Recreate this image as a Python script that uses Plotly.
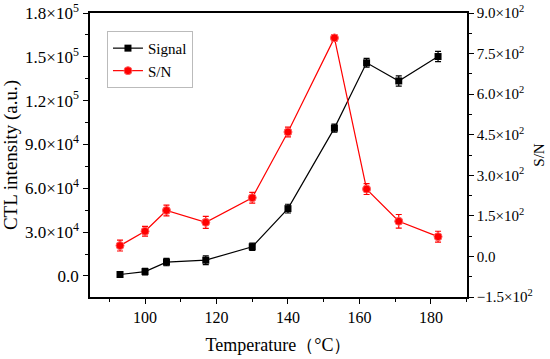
import plotly.graph_objects as go

temperature = [93, 100, 106, 117, 130, 140, 153, 162, 171, 182]
signal = [1000, 3000, 9500, 10800, 20000, 46100, 101200, 145900, 133500, 150200]
signal_err = [2000, 2200, 2500, 3000, 2500, 3000, 2800, 3000, 3500, 3500]
sn = [40, 93, 170, 126, 217, 460, 808, 249, 130, 73]
sn_err = [20, 18, 20, 22, 20, 18, 12, 20, 25, 20]

left_vals = [0, 30000, 60000, 90000, 120000, 150000, 180000]
left_text = ["0.0", "3.0×10<sup>4</sup>", "6.0×10<sup>4</sup>", "9.0×10<sup>4</sup>",
             "1.2×10<sup>5</sup>", "1.5×10<sup>5</sup>", "1.8×10<sup>5</sup>"]
right_vals = [-150, 0, 150, 300, 450, 600, 750, 900]
right_text = ["−1.5×10<sup>2</sup>", "0.0", "1.5×10<sup>2</sup>", "3.0×10<sup>2</sup>",
              "4.5×10<sup>2</sup>", "6.0×10<sup>2</sup>", "7.5×10<sup>2</sup>", "9.0×10<sup>2</sup>"]
x_vals = [100, 120, 140, 160, 180]

font = "Times New Roman, Liberation Serif, serif"

fig = go.Figure()
fig.add_trace(go.Scatter(
    x=temperature, y=signal, name="Signal", mode="lines+markers",
    line=dict(color="black", width=1.2),
    marker=dict(symbol="square", size=7, color="black"),
    error_y=dict(type="data", array=signal_err, color="black", thickness=1.2, width=3),
    yaxis="y"))
fig.add_trace(go.Scatter(
    x=temperature, y=sn, name="S/N", mode="lines+markers",
    line=dict(color="red", width=1.2),
    marker=dict(symbol="circle", size=8, color="red", line=dict(color="#ff6060", width=1)),
    error_y=dict(type="data", array=sn_err, color="red", thickness=1.2, width=3),
    yaxis="y2"))

axis_common = dict(showgrid=False, zeroline=False, showline=True, linecolor="black",
                   linewidth=1.5, ticks="outside", ticklen=5, tickwidth=1.2,
                   tickcolor="black", automargin=False, ticklabeloverflow="allow")

fig.update_layout(
    width=550, height=359,
    margin=dict(l=90, r=83, t=13, b=62),
    paper_bgcolor="white", plot_bgcolor="white",
    font=dict(family=font, color="black"),
    showlegend=True,
    legend=dict(x=0.045, y=0.937, xanchor="left", yanchor="top",
                bgcolor="white", bordercolor="#bbbbbb", borderwidth=1,
                font=dict(family=font, size=15, color="black"),
                itemwidth=30, tracegroupgap=0),
    xaxis=dict(**axis_common, range=[84.6, 190.1], tickmode="array", tickvals=x_vals,
               mirror=True, tickfont=dict(family=font, size=16, color="black"),
               ticklabelstandoff=0,
               minor=dict(ticks="outside", ticklen=3, dtick=10, tick0=0, tickcolor="black"),
               title=dict(text="Temperature（°C）", font=dict(family=font, size=18), standoff=13)),
    yaxis=dict(**axis_common, range=[-14400, 180000], tickmode="array", tickvals=left_vals,
               ticktext=left_text, tickfont=dict(family=font, size=17, color="black"),
               ticklabelstandoff=1,
               minor=dict(ticks="outside", ticklen=3, dtick=15000, tick0=0, tickcolor="black"),
               title=dict(text="CTL intensity (a.u.)", font=dict(family=font, size=19), standoff=9)),
    yaxis2=dict(**axis_common, range=[-150, 900], overlaying="y", side="right",
                tickmode="array", tickvals=right_vals, ticktext=right_text,
                tickfont=dict(family=font, size=15, color="black"),
                ticklabelstandoff=0,
                minor=dict(ticks="outside", ticklen=3, dtick=75, tick0=0, tickcolor="black"),
                title=dict(text="S/N", font=dict(family=font, size=15), standoff=2)),
)

fig.write_html("out.html", config={"displayModeBar": False},
               post_script="document.body.style.margin='0';")
